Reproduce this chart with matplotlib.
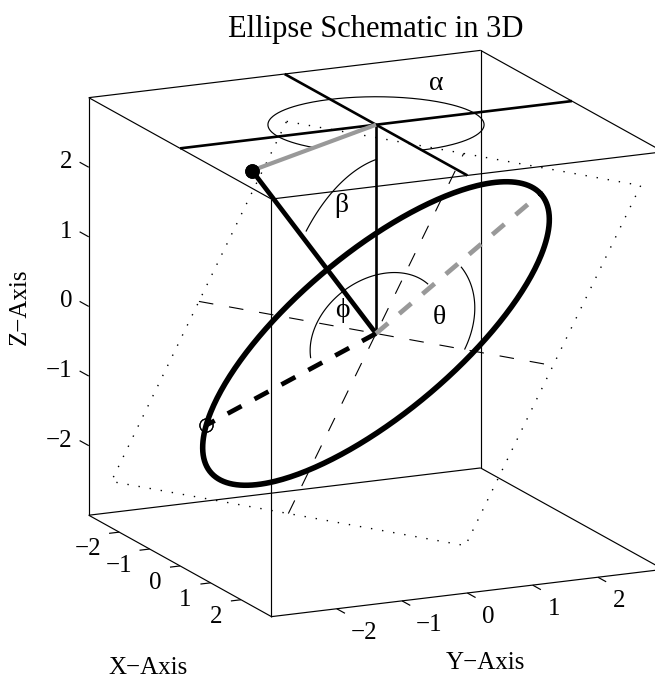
import numpy as np
import matplotlib
matplotlib.use('Agg')
import matplotlib.pyplot as plt
from mpl_toolkits.mplot3d import proj3d

plt.rcParams['font.family'] = ['Liberation Serif', 'DejaVu Serif']
plt.rcParams['lines.scale_dashes'] = False

# ticks
tick_values = [-2, -1, 0, 1, 2]
box_min, box_max = -3, 3

# orbit-like angles (degrees) and sizes
node_angle = 30.0
inclination = 45.0
axis_angle = 60.0
semi_major = 3.0
semi_minor = 1.5
point_param = 150.0
plane_half = 3.0
normal_len = 3 * np.sqrt(2)
alpha_arc = [0.0, 300.0, 1.5]
beta_arc = [0.0, 42.7, 2.5]
theta_arc = [0.0, 57.0, 1.5]
phi_arc = [64.0, 214.0, 1.0]

W, H = 655, 679
fig = plt.figure(figsize=(W / 100, H / 100), dpi=100)
ax = fig.add_axes([0, 0, 1, 1], projection='3d', proj_type='ortho', computed_zorder=False)
ax.view_init(elev=15, azim=-25)
ax.set_xlim(box_min, box_max)
ax.set_ylim(box_min, box_max)
ax.set_zlim(box_min, box_max)
ax.set_box_aspect((1, 1, 1))
ax.set_axis_off()
ax.patch.set_alpha(0)


def to_px(p):
    xp, yp, _ = proj3d.proj_transform(p[0], p[1], p[2], ax.get_proj())
    dx, dy = ax.transData.transform((xp, yp))
    return dx, H - dy


def label(x, y, s, size=18, **kw):
    kw.setdefault('ha', 'center')
    kw.setdefault('va', 'center')
    fig.text(x / W, 1 - y / H, s, fontsize=size, **kw)


def line(pts, **kw):
    pts = np.array(pts, dtype=float)
    kw.setdefault('color', 'black')
    kw.setdefault('lw', 0.8)
    kw.setdefault('solid_capstyle', 'butt')
    ax.plot(pts[:, 0], pts[:, 1], pts[:, 2], **kw)


om = np.radians(node_angle)
inc = np.radians(inclination)
u = np.array([np.cos(om), np.sin(om), 0])
v = np.array([-np.sin(om) * np.cos(inc), np.cos(om) * np.cos(inc), np.sin(inc)])
horiz = np.array([np.sin(om), -np.cos(om), 0])
zhat = np.array([0, 0, 1.0])
normal = horiz * np.sin(inc) + zhat * np.cos(inc)
e1 = u * np.cos(np.radians(axis_angle)) + v * np.sin(np.radians(axis_angle))
e2 = -u * np.sin(np.radians(axis_angle)) + v * np.cos(np.radians(axis_angle))
origin = np.zeros(3)
top = np.array([0, 0, box_max], dtype=float)

# box edges
lo, hi = box_min, box_max
for a in (lo, hi):
    for b in (lo, hi):
        line([(lo, a, b), (hi, a, b)], lw=0.85)
        line([(a, lo, b), (a, hi, b)], lw=0.85)
        line([(a, b, lo), (a, b, hi)], lw=0.85)

# ticks
for t in tick_values:
    line([(t, lo, lo), (t, lo - 0.155, lo)], lw=0.85)
    line([(hi, t, lo), (hi + 0.27, t, lo)], lw=0.85)
    line([(lo, lo, t), (lo - 0.3, lo, t)], lw=0.85)

# dotted square in the tilted plane
h = plane_half
corners = [-h * u + h * v, h * u + h * v, h * u - h * v, -h * u - h * v, -h * u + h * v]
line(corners, lw=1.0, ls=(0, (1.0, 7.1)))

# thin dashed midlines
dash_thin = (0, (10.5, 11.5))
line([-h * u, h * u], lw=0.8, ls=dash_thin)
line([-h * v, h * v], lw=0.8, ls=dash_thin)

# angle arcs


def plane_arc(spec):
    t = np.radians(np.linspace(spec[0], spec[1], 120))
    return spec[2] * (np.outer(np.cos(t), u) + np.outer(np.sin(t), v))


t = np.radians(np.linspace(alpha_arc[0], alpha_arc[1], 240))
line(alpha_arc[2] * (np.outer(np.cos(t), [1, 0, 0]) + np.outer(np.sin(t), [0, 1, 0])) + top, lw=0.85)
t = np.radians(np.linspace(beta_arc[0], beta_arc[1], 120))
line(beta_arc[2] * (np.outer(np.cos(t), zhat) + np.outer(np.sin(t), horiz)), lw=0.85)
line(plane_arc(theta_arc), lw=0.85)
line(plane_arc(phi_arc), lw=0.85)

# top-plane cross
line([(lo, 0, hi), (hi, 0, hi)], lw=1.9)
line([(0, lo, hi), (0, hi, hi)], lw=1.9)

# z axis and normal
line([origin, top], lw=1.9)
end = normal * normal_len
line([top, end], lw=3, color='#999999')
line([origin, end], lw=3.4)
line([end, end], marker='o', ms=9.5, color='black', lw=0)

# radial dashed lines, under the ellipse
tp = np.radians(point_param)
pt = semi_major * np.cos(tp) * e1 + semi_minor * np.sin(tp) * e2
dash_thick = (0, (11.4, 10.6))
line([origin, pt], lw=3.4, ls=dash_thick)
line([origin, e1 * semi_major], lw=3.4, ls=dash_thick, color='#999999')

# ellipse
t = np.radians(np.linspace(0, 360, 361))
ell = semi_major * np.outer(np.cos(t), e1) + semi_minor * np.outer(np.sin(t), e2)
line(ell, lw=4.0, solid_capstyle='round')
line([pt, pt], marker='o', ms=9.5, mfc='none', mec='black', mew=0.85, lw=0)

# fit the axes so one y unit is 65.3 px across, with the origin at (376, 333.5)
for _ in range(4):
    fig.canvas.draw()
    a0 = to_px((0, 0, 0))
    a1 = to_px((0, 3, 0))
    scale = 65.3 * 3 / (a1[0] - a0[0])
    pos = ax.get_position(original=True)
    fx = (a0[0] / W - pos.x0) / pos.width
    fy = ((H - a0[1]) / H - pos.y0) / pos.height
    nw, nh = pos.width * scale, pos.height * scale
    ax.set_position([376 / W - fx * nw, (H - 333.5) / H - fy * nh, nw, nh])
fig.canvas.draw()

# tick labels
for t in tick_values:
    s = str(t).replace('-', '\u2212')
    px, py = to_px((t, lo, lo))
    label(px + (-31 if t < 0 else -25), py + 17, s)
    px, py = to_px((hi, t, lo))
    label(px + (27.5 if t < 0 else 21), py + 24, s)
    px, py = to_px((lo, lo, t))
    label(px - 16, py - 5, s, ha='right')

# text
label(376, 30, 'Ellipse Schematic in 3D', size=22)
label(148, 668, 'X\u2212Axis')
label(485, 663, 'Y\u2212Axis')
label(20, 307, 'Z\u2212Axis', rotation=90)
label(436, 84, '\u03b1', size=20)
label(341, 206, '\u03b2', size=20)
label(439, 317, '\u03b8', size=20)
label(342, 311, '\u03d5', size=20)

fig.savefig('out.png', dpi=100)
